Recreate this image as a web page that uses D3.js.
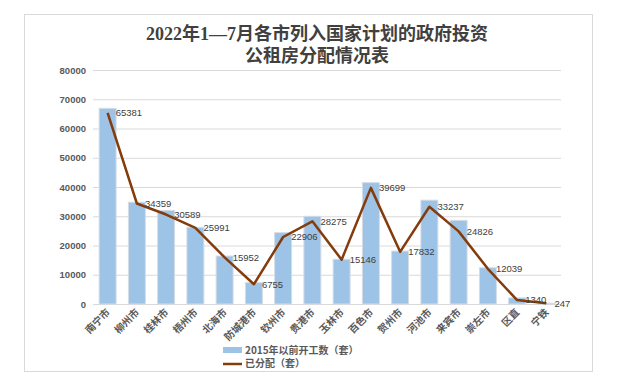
<!DOCTYPE html>
<html>
<head>
<meta charset="utf-8">
<script src="https://cdn.jsdelivr.net/npm/d3@7"></script>
<style>
  body { margin: 0; background: #fff; }
  svg { display: block; }
</style>
</head>
<body>
<div id="my_dataviz"></div>
<script>
// chart data
const cities = ["南宁市", "柳州市", "桂林市", "梧州市", "北海市", "防城港市", "钦州市", "贵港市",
  "玉林市", "百色市", "贺州市", "河池市", "来宾市", "崇左市", "区直", "宁铁"];
const started = [66900, 34800, 32000, 26200, 16400, 7300, 24400, 30000,
  15300, 41500, 18100, 35500, 28600, 12400, 2100, 300];
const allocated = [65381, 34359, 30589, 25991, 15952, 6755, 22906, 28275,
  15146, 39699, 17832, 33237, 24826, 12039, 1340, 247];
const yTicks = [0, 10000, 20000, 30000, 40000, 50000, 60000, 70000, 80000];
const titleLines = ["2022年1—7月各市列入国家计划的政府投资", "公租房分配情况表"];
const legendNames = ["2015年以前开工数（套）", "已分配（套）"];

makeChart();

function makeChart() {
  const W = 640, H = 385;
  const margin = {top: 70, right: 79, bottom: 81, left: 93},
    width = W - margin.left - margin.right,
    height = H - margin.top - margin.bottom;

  const root = d3.select("#my_dataviz")
    .append("svg")
    .attr("width", W)
    .attr("height", H);

  // outer frame
  root.append("rect")
    .attr("x", 24.5).attr("y", 14.5)
    .attr("width", 568).attr("height", 357)
    .attr("fill", "#fff")
    .attr("stroke", "#d9d9d9");

  // title (serif digits, CJK falls back)
  root.append("g")
    .selectAll("text")
    .data(titleLines)
    .join("text")
    .attr("x", 317)
    .attr("y", (d, i) => 40 + i * 22)
    .attr("text-anchor", "middle")
    .style("font-family", "'Liberation Serif', 'Noto Sans CJK SC', serif")
    .style("font-size", "18px")
    .style("font-weight", 700)
    .style("fill", "#404040")
    .text(d => d);

  const svg = root.append("g")
    .attr("transform", `translate(${margin.left}, ${margin.top})`);

  // scales
  const x = d3.scaleBand()
    .domain(cities)
    .range([0, width])
    .paddingInner(0.42)
    .paddingOuter(0.21);
  const y = d3.scaleLinear()
    .domain([0, 80000])
    .range([height, 0]);
  const cx = d => x(d) + x.bandwidth() / 2;

  // grid lines
  svg.append("g")
    .selectAll("line")
    .data(yTicks)
    .join("line")
    .attr("x1", 0).attr("x2", width)
    .attr("y1", d => y(d) + 0.5).attr("y2", d => y(d) + 0.5)
    .attr("stroke", "#d9d9d9")
    .attr("stroke-width", 1);

  // Y axis
  const yAxis = svg.append("g")
    .attr("transform", "translate(-7,0)")
    .call(d3.axisLeft(y).tickValues(yTicks).tickSize(0).tickPadding(0).tickFormat(d3.format("d")));
  yAxis.select(".domain").remove();
  yAxis.selectAll("text")
    .style("font-family", "'Liberation Sans', Arial, sans-serif")
    .style("font-size", "9.5px")
    .style("font-weight", 700)
    .style("fill", "#595959");

  // X axis labels
  const xAxis = svg.append("g")
    .attr("transform", `translate(0, ${height})`)
    .call(d3.axisBottom(x).tickSize(0).tickPadding(0));
  xAxis.select(".domain").remove();
  xAxis.selectAll("text")
    .attr("y", 0)
    .attr("dy", 0)
    .attr("transform", "translate(3,9)rotate(-45)")
    .style("text-anchor", "end")
    .style("font-family", "'Noto Sans CJK SC', sans-serif")
    .style("font-size", "10px")
    .style("font-weight", 700)
    .style("fill", "#595959");

  // bars
  svg.selectAll(".bar")
    .data(cities)
    .join("rect")
    .attr("class", "bar")
    .attr("x", d => x(d))
    .attr("width", x.bandwidth())
    .attr("y", (d, i) => y(started[i]))
    .attr("height", (d, i) => height - y(started[i]))
    .attr("fill", "#9dc3e6")
    .attr("stroke", "#d6dde6")
    .attr("stroke-width", 1);

  // line
  const line = d3.line()
    .x((d, i) => cx(cities[i]))
    .y(d => y(d));
  svg.append("path")
    .datum(allocated)
    .attr("d", line)
    .attr("fill", "none")
    .attr("stroke", "#843c0c")
    .attr("stroke-width", 2.5)
    .attr("stroke-linejoin", "round");

  // data labels
  svg.selectAll(".lbl")
    .data(allocated)
    .join("text")
    .attr("class", "lbl")
    .attr("x", (d, i) => cx(cities[i]) + 8)
    .attr("y", d => y(d))
    .attr("dy", "0.35em")
    .style("font-family", "'Liberation Sans', Arial, sans-serif")
    .style("font-size", "9.5px")
    .style("fill", "#404040")
    .text(d => d);

  // legend
  const legend = root.append("g")
    .attr("transform", "translate(223, 350)");
  legend.append("rect")
    .attr("x", 0).attr("y", -3)
    .attr("width", 19).attr("height", 6)
    .attr("fill", "#9dc3e6");
  legend.append("line")
    .attr("x1", 0).attr("x2", 19)
    .attr("y1", 14).attr("y2", 14)
    .attr("stroke", "#843c0c")
    .attr("stroke-width", 2.5);
  legend.selectAll("text")
    .data(legendNames)
    .join("text")
    .attr("x", 22)
    .attr("y", (d, i) => i * 13.5)
    .attr("dy", "0.35em")
    .style("font-family", "'Noto Sans CJK SC', sans-serif")
    .style("font-size", "10px")
    .style("font-weight", 700)
    .style("fill", "#595959")
    .text(d => d);
}
</script>
</body>
</html>
